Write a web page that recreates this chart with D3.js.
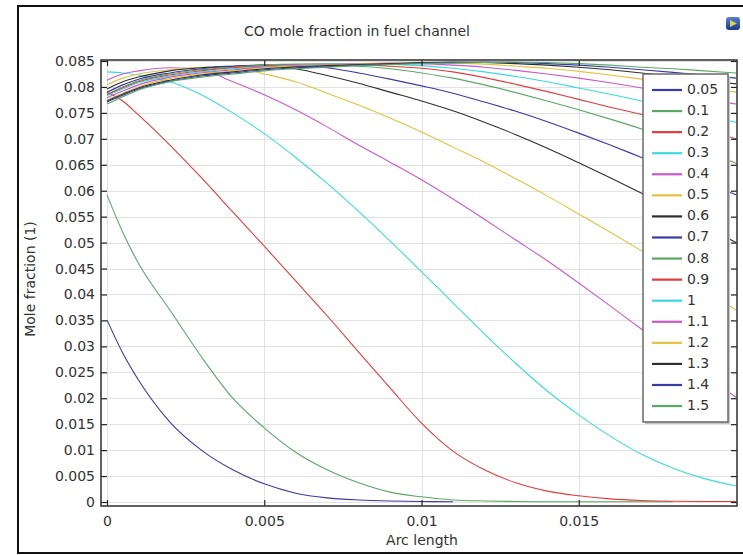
<!DOCTYPE html>
<html>
<head>
<meta charset="utf-8">
<script src="https://cdn.jsdelivr.net/npm/d3@7"></script>
<style>
  html, body { margin: 0; padding: 0; background: #fff; }
  svg { display: block; font-family: "DejaVu Sans", Verdana, sans-serif; }
</style>
</head>
<body>
<svg id="chart" width="743" height="555"></svg>
<script>
// Arc length sample points along the fuel channel (m)
const arcLength = [0, 0.0005, 0.001, 0.002, 0.003, 0.004, 0.005, 0.006, 0.007, 0.008, 0.009,
  0.010, 0.011, 0.012, 0.013, 0.014, 0.015, 0.016, 0.017, 0.018, 0.019, 0.020];

// Parameter values shown in the legend
const paramLabels = ["0.05", "0.1", "0.2", "0.3", "0.4", "0.5", "0.6", "0.7",
  "0.8", "0.9", "1", "1.1", "1.2", "1.3", "1.4", "1.5"];

// CO mole fraction for each parameter value
const co_005 = [0.0351, 0.0287, 0.0235, 0.0154, 0.0100, 0.0062, 0.0035, 0.0017, 0.0008, 0.0004, 0.0002, 0.0001, 0.00005];
const co_01  = [0.0592, 0.0520, 0.0460, 0.0370, 0.0280, 0.0200, 0.0143, 0.0096, 0.0062, 0.0037, 0.0019, 0.0010, 0.0004, 0.0002, 0.0001, 0.00005, 0.00005, 0.00005, 0.00005, 0.00005];
const co_02  = [0.0790, 0.0773, 0.0746, 0.0688, 0.0625, 0.0559, 0.0493, 0.0426, 0.0359, 0.0289, 0.0220, 0.0152, 0.0098, 0.0062, 0.0037, 0.0021, 0.0012, 0.0006, 0.0003, 0.00015, 0.0001, 0.0001];
const co_03  = [0.0829, 0.0827, 0.0823, 0.0810, 0.0785, 0.0750, 0.0710, 0.0664, 0.0614, 0.0560, 0.0503, 0.0444, 0.0384, 0.0324, 0.0267, 0.0214, 0.0168, 0.0127, 0.0092, 0.0065, 0.0045, 0.0031];
const co_04  = [0.0813, 0.0825, 0.0831, 0.0837, 0.0833, 0.0810, 0.0785, 0.0756, 0.0723, 0.0688, 0.0655, 0.0621, 0.0584, 0.0545, 0.0505, 0.0465, 0.0422, 0.0378, 0.0333, 0.0289, 0.0245, 0.0202];
const co_05  = [0.0804, 0.0817, 0.0825, 0.0833, 0.0838, 0.0838, 0.0825, 0.0810, 0.0788, 0.0765, 0.0740, 0.0713, 0.0684, 0.0655, 0.0623, 0.0590, 0.0555, 0.0520, 0.0484, 0.0447, 0.0409, 0.0370];
const co_06  = [0.0796, 0.0810, 0.0819, 0.0831, 0.0837, 0.0840, 0.0842, 0.0835, 0.0822, 0.0807, 0.0790, 0.0773, 0.0754, 0.0732, 0.0708, 0.0682, 0.0654, 0.0625, 0.0595, 0.0564, 0.0532, 0.0500];
const co_07  = [0.0790, 0.0804, 0.0815, 0.0827, 0.0835, 0.0840, 0.0842, 0.0842, 0.0837, 0.0827, 0.0815, 0.0802, 0.0788, 0.0771, 0.0753, 0.0733, 0.0711, 0.0688, 0.0664, 0.0640, 0.0616, 0.0592];
const co_08  = [0.0786, 0.0800, 0.0812, 0.0825, 0.0833, 0.0838, 0.0842, 0.0844, 0.0844, 0.0840, 0.0835, 0.0827, 0.0817, 0.0804, 0.0789, 0.0773, 0.0756, 0.0738, 0.0719, 0.0698, 0.0677, 0.0653];
const co_09  = [0.0785, 0.0798, 0.0810, 0.0823, 0.0831, 0.0837, 0.0840, 0.0843, 0.0844, 0.0843, 0.0840, 0.0836, 0.0829, 0.0818, 0.0805, 0.0791, 0.0776, 0.0761, 0.0747, 0.0732, 0.0716, 0.0700];
const co_10  = [0.0783, 0.0796, 0.0808, 0.0821, 0.0829, 0.0835, 0.0839, 0.0842, 0.0844, 0.0845, 0.0844, 0.0841, 0.0836, 0.0829, 0.0820, 0.0810, 0.0798, 0.0786, 0.0773, 0.0760, 0.0746, 0.0732];
const co_11  = [0.0779, 0.0792, 0.0804, 0.0819, 0.0827, 0.0833, 0.0838, 0.0841, 0.0843, 0.0845, 0.0846, 0.0845, 0.0842, 0.0838, 0.0832, 0.0825, 0.0817, 0.0808, 0.0798, 0.0788, 0.0778, 0.0767];
const co_12  = [0.0775, 0.0788, 0.0800, 0.0816, 0.0825, 0.0831, 0.0837, 0.0840, 0.0842, 0.0844, 0.0846, 0.0847, 0.0846, 0.0844, 0.0840, 0.0836, 0.0830, 0.0823, 0.0815, 0.0807, 0.0799, 0.0790];
const co_13  = [0.0773, 0.0786, 0.0798, 0.0813, 0.0823, 0.0829, 0.0835, 0.0839, 0.0841, 0.0843, 0.0845, 0.0847, 0.0848, 0.0847, 0.0845, 0.0842, 0.0838, 0.0833, 0.0827, 0.0820, 0.0813, 0.0806];
const co_14  = [0.0771, 0.0784, 0.0796, 0.0811, 0.0821, 0.0827, 0.0833, 0.0837, 0.0839, 0.0842, 0.0844, 0.0846, 0.0847, 0.0848, 0.0847, 0.0845, 0.0842, 0.0838, 0.0833, 0.0828, 0.0823, 0.0817];
const co_15  = [0.0767, 0.0781, 0.0794, 0.0810, 0.0819, 0.0825, 0.0831, 0.0835, 0.0838, 0.0841, 0.0843, 0.0845, 0.0846, 0.0847, 0.0848, 0.0847, 0.0845, 0.0842, 0.0838, 0.0835, 0.0831, 0.0827];

const seriesValues = [co_005, co_01, co_02, co_03, co_04, co_05, co_06, co_07,
  co_08, co_09, co_10, co_11, co_12, co_13, co_14, co_15];

// Axis ticks
const xTicks = [0, 0.005, 0.01, 0.015];
const yTicks = [0, 0.005, 0.01, 0.015, 0.02, 0.025, 0.03, 0.035, 0.04, 0.045,
  0.05, 0.055, 0.06, 0.065, 0.07, 0.075, 0.08, 0.085];

// Default line colour cycle
const palette = ["#3a3aa8", "#5aa866", "#e03c3c", "#3cdada", "#c85ac8", "#e4c23e", "#2e2e2e"];

const svg = d3.select("#chart");

// Outer frame
svg.append("rect")
  .attr("x", 18).attr("y", 6).attr("width", 740).attr("height", 547)
  .attr("fill", "#fff").attr("stroke", "#111").attr("stroke-width", 2);

const plot = { left: 101, right: 737, top: 60, bottom: 506 };

const x = d3.scaleLinear().domain([-0.000191, 0.020032]).range([plot.left, plot.right]);
const y = d3.scaleLinear().domain([-0.000771, 0.085193]).range([plot.bottom, plot.top]);

const defs = svg.append("defs");
defs.append("clipPath").attr("id", "plotClip")
  .append("rect")
  .attr("x", plot.left).attr("y", plot.top)
  .attr("width", plot.right - plot.left).attr("height", plot.bottom - plot.top);

// Grid
const grid = svg.append("g").attr("stroke", "#e2e2e2").attr("stroke-width", 1);
grid.selectAll("line.h").data(yTicks).join("line")
  .attr("x1", plot.left).attr("x2", plot.right)
  .attr("y1", d => Math.round(y(d)) + 0.5).attr("y2", d => Math.round(y(d)) + 0.5);
grid.selectAll("line.v").data(xTicks).join("line")
  .attr("y1", plot.top).attr("y2", plot.bottom)
  .attr("x1", d => Math.round(x(d)) + 0.5).attr("x2", d => Math.round(x(d)) + 0.5);

// Curves
const line = d3.line()
  .x((d, i) => x(arcLength[i]))
  .y(d => y(d))
  .curve(d3.curveMonotoneX);

svg.append("g").attr("clip-path", "url(#plotClip)")
  .selectAll("path").data(seriesValues).join("path")
  .attr("d", d => line(d))
  .attr("fill", "none")
  .attr("stroke", (d, i) => palette[i % palette.length])
  .attr("stroke-width", 1.1)
  .attr("stroke-linejoin", "round");

// Axes with inward ticks on all four sides
const fmt = d => String(+d.toFixed(3));
const tickLen = 6;

const axisLeft = d3.axisLeft(y).tickValues(yTicks).tickSize(-tickLen).tickPadding(6).tickFormat(fmt);
const axisRight = d3.axisRight(y).tickValues(yTicks).tickSize(-tickLen).tickFormat("");
const axisBottom = d3.axisBottom(x).tickValues(xTicks).tickSize(-tickLen).tickPadding(10).tickFormat(fmt);
const axisTop = d3.axisTop(x).tickValues(xTicks).tickSize(-tickLen).tickFormat("");

function styleAxis(g) {
  g.select(".domain").remove();
  g.selectAll(".tick line").attr("stroke", "#222").attr("stroke-width", 1.2);
  g.selectAll(".tick text").attr("fill", "#333").attr("font-size", 14)
    .attr("font-family", "DejaVu Sans, Verdana, sans-serif");
}

svg.append("g").attr("transform", `translate(${plot.left},0)`).call(axisLeft).call(styleAxis);
svg.append("g").attr("transform", `translate(${plot.right},0)`).call(axisRight).call(styleAxis);
svg.append("g").attr("transform", `translate(0,${plot.bottom})`).call(axisBottom).call(styleAxis);
svg.append("g").attr("transform", `translate(0,${plot.top})`).call(axisTop).call(styleAxis);

// Plot frame
svg.append("rect")
  .attr("x", plot.left).attr("y", plot.top)
  .attr("width", plot.right - plot.left).attr("height", plot.bottom - plot.top)
  .attr("fill", "none").attr("stroke", "#3a3a3a").attr("stroke-width", 1.6);

// Titles
svg.append("text").attr("x", 357).attr("y", 32)
  .attr("text-anchor", "middle").attr("dominant-baseline", "middle")
  .attr("font-size", 14).attr("fill", "#333")
  .text("CO mole fraction in fuel channel");

svg.append("text").attr("x", 422).attr("y", 541)
  .attr("text-anchor", "middle").attr("dominant-baseline", "middle")
  .attr("font-size", 14).attr("fill", "#333")
  .text("Arc length");

svg.append("text")
  .attr("transform", "translate(31,279) rotate(-90)")
  .attr("text-anchor", "middle").attr("dominant-baseline", "middle")
  .attr("font-size", 14).attr("fill", "#333")
  .text("Mole fraction (1)");

// Small application badge in the top-right corner
const badge = svg.append("g").attr("transform", "translate(726,17)");
const grad = defs.append("linearGradient").attr("id", "badgeGrad")
  .attr("x1", 0).attr("y1", 0).attr("x2", 0).attr("y2", 1);
grad.append("stop").attr("offset", 0).attr("stop-color", "#5a7fd0");
grad.append("stop").attr("offset", 1).attr("stop-color", "#1c3a8a");
badge.append("rect").attr("width", 14).attr("height", 13).attr("rx", 3)
  .attr("fill", "url(#badgeGrad)");
badge.append("path").attr("d", "M4,3 L11,6.5 L4,10 Z").attr("fill", "#d9d24a");

// Legend
const legend = { x: 643, y: 74, w: 85, h: 348, row0: 90, step: 21.07 };
svg.append("rect")
  .attr("x", legend.x + 2).attr("y", legend.y + 2)
  .attr("width", legend.w).attr("height", legend.h)
  .attr("fill", "#c4c4c4");
svg.append("rect")
  .attr("x", legend.x).attr("y", legend.y)
  .attr("width", legend.w).attr("height", legend.h)
  .attr("fill", "#fff").attr("stroke", "#6a6a6a").attr("stroke-width", 1.5);

const rows = svg.append("g").selectAll("g").data(paramLabels).join("g")
  .attr("transform", (d, i) => `translate(0,${legend.row0 + i * legend.step})`);
rows.append("line")
  .attr("x1", 652).attr("x2", 682)
  .attr("stroke", (d, i) => palette[i % palette.length])
  .attr("stroke-width", 2.2);
rows.append("text")
  .attr("x", 687).attr("dominant-baseline", "middle")
  .attr("font-size", 14).attr("fill", "#333")
  .text(d => d);
</script>
</body>
</html>
